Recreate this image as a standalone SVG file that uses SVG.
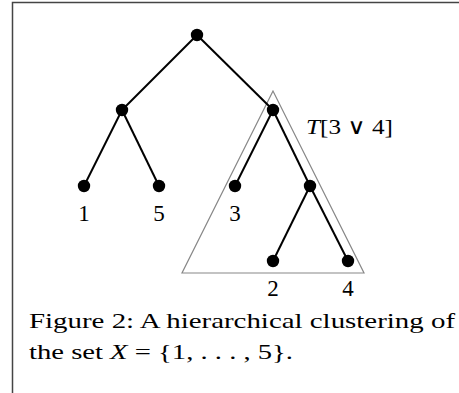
<svg xmlns="http://www.w3.org/2000/svg" width="459" height="393" viewBox="0 0 459 393">
<style>
.frame{stroke:#444;stroke-width:1.5;fill:none}
.edge{stroke:#000;stroke-width:2;fill:none}
.node{fill:#000}
.tri{stroke:#888;stroke-width:1.2;fill:none}
text{font-family:"Liberation Serif","DejaVu Serif",serif;fill:#000}
.lbl{font-size:23px;text-anchor:middle}
.cap{font-size:22px}
.it{font-style:italic}
.op{font-family:"DejaVu Serif",serif;font-size:22px;font-weight:normal}
</style>
<rect width="459" height="393" fill="#fff"/>
<path class="frame" d="M12.5,393 V2.5 H459"/>
<g id="subtree-outline"><polygon class="tri" points="273,91 182,273 364,273"/></g>
<g id="connectors">
<line class="edge" x1="197" y1="35" x2="122" y2="110"/>
<line class="edge" x1="197" y1="35" x2="273" y2="110"/>
<line class="edge" x1="122" y1="110" x2="84" y2="186"/>
<line class="edge" x1="122" y1="110" x2="159" y2="186"/>
<line class="edge" x1="273" y1="110" x2="235" y2="186"/>
<line class="edge" x1="273" y1="110" x2="310" y2="186"/>
<line class="edge" x1="310" y1="186" x2="273" y2="261"/>
<line class="edge" x1="310" y1="186" x2="348" y2="261"/>
</g>
<g id="root"><circle class="node" cx="197" cy="35" r="6.2"/></g>
<g id="n15"><circle class="node" cx="122" cy="110" r="6.2"/></g>
<g id="n234"><circle class="node" cx="273" cy="110" r="6.2"/></g>
<g id="leaf1"><circle class="node" cx="84" cy="186" r="6.2"/><text class="lbl" x="84" y="221">1</text></g>
<g id="leaf5"><circle class="node" cx="159" cy="186" r="6.2"/><text class="lbl" x="159" y="221">5</text></g>
<g id="leaf3"><circle class="node" cx="235" cy="186" r="6.2"/><text class="lbl" x="235" y="221">3</text></g>
<g id="n24"><circle class="node" cx="310" cy="186" r="6.2"/></g>
<g id="leaf2"><circle class="node" cx="273" cy="261" r="6.2"/><text class="lbl" x="273" y="296">2</text></g>
<g id="leaf4"><circle class="node" cx="348" cy="261" r="6.2"/><text class="lbl" x="348" y="296">4</text></g>
<text class="cap" x="306" y="134" textLength="87" lengthAdjust="spacingAndGlyphs"><tspan class="it">T</tspan>[3 <tspan class="op">∨</tspan> 4]</text>
<text class="cap" x="29" y="328" textLength="426" lengthAdjust="spacingAndGlyphs">Figure 2: A hierarchical clustering of</text>
<text class="cap" x="29" y="359" textLength="264" lengthAdjust="spacingAndGlyphs">the set <tspan class="it">X</tspan> = {1, . . . , 5}.</text>
</svg>
